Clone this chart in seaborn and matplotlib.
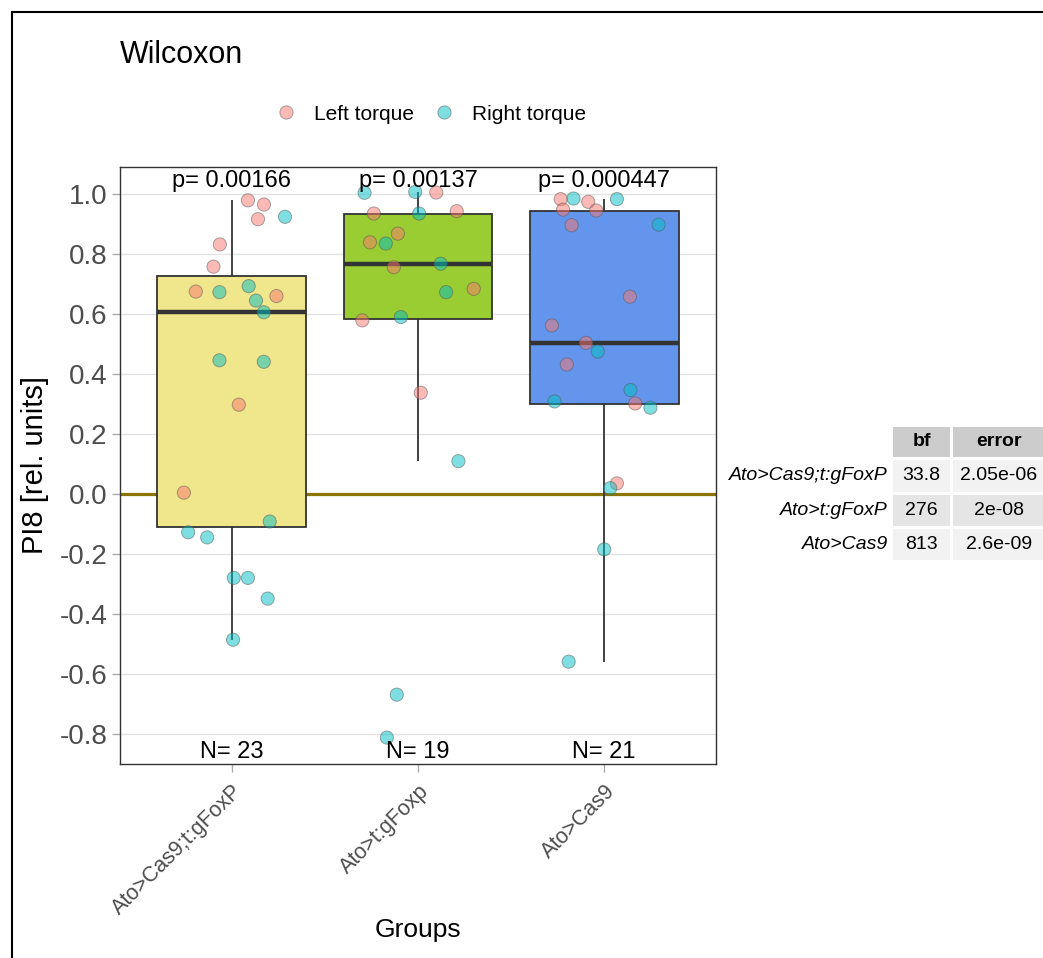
import matplotlib
matplotlib.use("Agg")
import matplotlib.pyplot as plt
import seaborn as sns
import pandas as pd
from matplotlib.lines import Line2D
from matplotlib.patches import Rectangle

# ---------------- data ----------------
groups = ["Ato>Cas9;t:gFoxP", "Ato>t:gFoxp", "Ato>Cas9"]
box_colors = ["#F0E68C", "#9ACD32", "#6495ED"]
side_labels = ["Left torque", "Right torque"]
side_colors = ["#F8766D", "#00BFC4"]

g1_left = [0.978, 0.964, 0.915, 0.831, 0.757, 0.674, 0.659, 0.297, 0.004]
g1_left_jit = [0.087, 0.173, 0.141, -0.064, -0.098, -0.193, 0.240, 0.038, -0.257]
g1_right = [0.923, 0.672, 0.692, 0.644, 0.605, 0.445, 0.440, -0.092, -0.128,
            -0.145, -0.280, -0.280, -0.349, -0.486]
g1_right_jit = [0.286, -0.066, 0.091, 0.130, 0.172, -0.066, 0.172, 0.204, -0.234,
                -0.132, 0.011, 0.087, 0.193, 0.007]

g2_left = [1.004, 0.934, 0.942, 0.867, 0.838, 0.755, 0.683, 0.578, 0.337]
g2_left_jit = [0.098, -0.237, 0.208, -0.108, -0.258, -0.130, 0.299, -0.299, 0.015]
g2_right = [1.003, 1.006, 0.934, 0.834, 0.767, 0.672, 0.589, 0.109, -0.669, -0.812]
g2_right_jit = [-0.287, -0.015, 0.006, -0.173, 0.122, 0.151, -0.092, 0.217, -0.114, -0.167]

g3_left = [0.982, 0.973, 0.947, 0.944, 0.895, 0.657, 0.561, 0.503, 0.431, 0.301, 0.035]
g3_left_jit = [-0.234, -0.086, -0.221, -0.043, -0.175, 0.138, -0.281, -0.098, -0.201, 0.166, 0.068]
g3_right = [0.984, 0.982, 0.897, 0.474, 0.346, 0.308, 0.287, 0.019, -0.185, -0.559]
g3_right_jit = [-0.165, 0.068, 0.292, -0.035, 0.141, -0.267, 0.248, 0.032, 0.000, -0.191]

p_values = ["p= 0.00166", "p= 0.00137", "p= 0.000447"]

table_rows = ["Ato>Cas9;t:gFoxP", "Ato>t:gFoxP", "Ato>Cas9"]
table_cols = ["bf", "error"]
table_bf = ["33.8", "276", "813"]
table_err = ["2.05e-06", "2e-08", "2.6e-09"]

# ---------------- build frame ----------------
rows = []
series = [
    (groups[0], g1_left, g1_left_jit, g1_right, g1_right_jit),
    (groups[1], g2_left, g2_left_jit, g2_right, g2_right_jit),
    (groups[2], g3_left, g3_left_jit, g3_right, g3_right_jit),
]
for gi, (g, lv, lj, rv, rj) in enumerate(series):
    for v, j in zip(lv, lj):
        rows.append({"group": g, "side": side_labels[0], "value": v, "xpos": gi + j})
    for v, j in zip(rv, rj):
        rows.append({"group": g, "side": side_labels[1], "value": v, "xpos": gi + j})
df = pd.DataFrame(rows)

# ---------------- style ----------------
sns.set_style("white")
plt.rcParams["font.family"] = ["Liberation Sans", "DejaVu Sans"]
plt.rcParams["text.color"] = "black"
plt.rcParams["axes.labelcolor"] = "black"

W, H = 1043, 958
fig = plt.figure(figsize=(W / 100, H / 100), dpi=100)
ax = fig.add_axes([120 / W, 1 - 764 / H, 596 / W, 597 / H])

ax.yaxis.grid(True, color="#e3e3e3", linewidth=1.0)
ax.xaxis.grid(False)
ax.set_axisbelow(True)

ax.axhline(0, color="#8B7500", linewidth=2.3, zorder=1.5)

sns.boxplot(data=df, x="group", y="value", order=groups, hue="group",
            hue_order=groups, palette=dict(zip(groups, box_colors)),
            legend=False, showfliers=False, showcaps=False, width=0.8,
            saturation=1, linewidth=1.3, linecolor="#333333",
            medianprops=dict(linewidth=3.2, color="#333333"),
            ax=ax, zorder=2)

sns.scatterplot(data=df, x="xpos", y="value", hue="side", hue_order=side_labels,
                palette=dict(zip(side_labels, side_colors)), s=90, alpha=0.5,
                edgecolor="#555555", linewidth=0.7, legend=False, ax=ax, zorder=3)

ax.set_xlim(-0.6, 2.6)
ax.set_ylim(-0.9, 1.089)
yt = [1.0, 0.8, 0.6, 0.4, 0.2, 0.0, -0.2, -0.4, -0.6, -0.8]
ax.set_yticks(yt)
ax.set_yticklabels([f"{t:.1f}" for t in yt])
ax.set_xticks(range(len(groups)))
ax.set_xticklabels(groups, rotation=45, ha="right", va="top", rotation_mode="anchor")

ax.tick_params(axis="y", labelsize=20, labelcolor="#4d4d4d", color="#aaaaaa",
               length=6, width=1, pad=3, left=True)
ax.tick_params(axis="x", labelsize=15.5, labelcolor="#4d4d4d", color="#aaaaaa",
               length=6, width=1, pad=6, bottom=True)

for sp in ax.spines.values():
    sp.set_color("#333333")
    sp.set_linewidth(1.0)

ax.set_xlabel("Groups", fontsize=19, color="black")
ax.xaxis.label.set_va("center")
ax.xaxis.set_label_coords(0.5, -(930 - 764) / 597)
ax.set_ylabel("PI8 [rel. units]", fontsize=21, color="black")
ax.yaxis.label.set_va("center")
ax.yaxis.set_label_coords(-(120 - 35) / 596, 0.5)

# annotations: p-values and N
counts = df.groupby("group")["value"].count()
for i, g in enumerate(groups):
    ax.text(i, 1.043, p_values[i], ha="center", va="center", fontsize=17,
            color="black", zorder=5)
    ax.text(i, -0.86, f"N= {counts[g]}", ha="center", va="center", fontsize=17,
            color="black", zorder=5)

# title
fig.text(120 / W, 1 - 55 / H, "Wilcoxon", fontsize=22, ha="left", va="center",
         color="black")

# legend
handles = [Line2D([], [], marker="o", linestyle="", markersize=9.5,
                  markerfacecolor=c, markeredgecolor="#555555", markeredgewidth=0.7,
                  alpha=0.5) for c in side_colors]
leg = fig.legend(handles, side_labels, ncol=2, loc="center",
                 bbox_to_anchor=(431 / W, 1 - 114 / H), frameon=False, fontsize=15,
                 handlelength=1.0, handletextpad=0.85, columnspacing=0.95)
for t in leg.get_texts():
    t.set_color("black")

# table
def px_rect(x0, y0, x1, y1, color):
    fig.patches.append(Rectangle((x0 / W, 1 - y1 / H), (x1 - x0) / W, (y1 - y0) / H,
                                 transform=fig.transFigure, facecolor=color,
                                 edgecolor="none", zorder=0))

col_x = [(893, 950), (953, 1047)]
col_cx = [921.5, 999]
hdr_y = (427, 457)
row_y = [(460, 492), (495, 526), (529, 560)]
row_fill = ["#f2f2f2", "#e5e5e5", "#f2f2f2"]

for (x0, x1), cx, name in zip(col_x, col_cx, table_cols):
    px_rect(x0, hdr_y[0], x1, hdr_y[1], "#cccccc")
    fig.text(cx / W, 1 - (sum(hdr_y) / 2) / H, name, ha="center", va="center",
             fontsize=14, fontweight="bold", color="black")
for r, (y0, y1) in enumerate(row_y):
    yc = 1 - ((y0 + y1) / 2) / H
    for (x0, x1) in col_x:
        px_rect(x0, y0, x1, y1, row_fill[r])
    fig.text(888 / W, yc, table_rows[r], ha="right", va="center", fontsize=14,
             fontstyle="italic", color="black")
    fig.text(col_cx[0] / W, yc, table_bf[r], ha="center", va="center", fontsize=14,
             color="black")
    fig.text(col_cx[1] / W, yc, table_err[r], ha="center", va="center", fontsize=14,
             color="black")

# outer border
fig.patches.append(Rectangle((12 / W, -0.05), 1.2, 1 - 12 / H + 0.05, fill=False,
                             edgecolor="black", linewidth=1.5,
                             transform=fig.transFigure, zorder=10))

fig.savefig("out.png", dpi=100)
